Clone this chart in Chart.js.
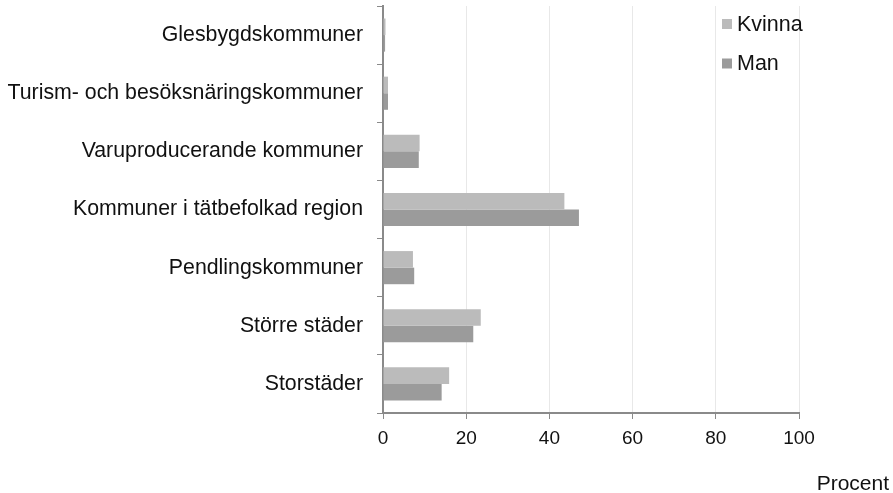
<!DOCTYPE html>
<html>
<head>
<meta charset="utf-8">
<script src="https://cdn.jsdelivr.net/npm/chart.js@4.4.0/dist/chart.umd.min.js"></script>
<style>
  html, body { margin: 0; padding: 0; background: #fff; }
  #wrap { width: 893px; height: 493px; }
</style>
</head>
<body>
<div id="wrap"><canvas id="chart" width="893" height="493"></canvas></div>
<script>
// Kategorier och värden (procent)
const kategorier = [
  "Glesbygdskommuner",
  "Turism- och besöksnäringskommuner",
  "Varuproducerande kommuner",
  "Kommuner i tätbefolkad region",
  "Pendlingskommuner",
  "Större städer",
  "Storstäder"
];
const kvinna = [0.6, 1.2, 8.8, 43.6, 7.2, 23.5, 15.9];
const man = [0.5, 1.2, 8.6, 47.1, 7.5, 21.7, 14.1];
const xTicks = [0, 20, 40, 60, 80, 100];

const FONT = "'Liberation Sans', Arial, sans-serif";

// egen legend inne i diagrammet + axeltitel "Procent"
const extraText = {
  id: "extraText",
  afterDraw(chart) {
    const ctx = chart.ctx;
    ctx.save();
    ctx.font = "21.5px " + FONT;
    ctx.textBaseline = "middle";
    chart.data.datasets.forEach((ds, i) => {
      const y = 24 + i * 39.5;
      ctx.fillStyle = ds.backgroundColor;
      ctx.fillRect(722, y - 5, 10, 10);
      ctx.fillStyle = "#111";
      ctx.textAlign = "left";
      ctx.fillText(ds.label, 737, y + 1);
    });
    ctx.font = "21px " + FONT;
    ctx.textAlign = "right";
    ctx.textBaseline = "alphabetic";
    ctx.fillText("Procent", 889, 490);
    ctx.restore();
  }
};

new Chart(document.getElementById("chart").getContext("2d"), {
  type: "bar",
  data: {
    labels: kategorier,
    datasets: [
      { label: "Kvinna", data: kvinna, backgroundColor: "#bbbbbb" },
      { label: "Man", data: man, backgroundColor: "#9b9b9b" }
    ]
  },
  options: {
    indexAxis: "y",
    responsive: false,
    animation: false,
    layout: { padding: { top: 6, right: 94, left: 0, bottom: 0 } },
    datasets: { bar: { categoryPercentage: 0.57, barPercentage: 1.0 } },
    plugins: {
      legend: { display: false },
      tooltip: { enabled: false }
    },
    scales: {
      x: {
        min: 0,
        max: 100,
        afterBuildTicks: s => { s.ticks = xTicks.map(v => ({ value: v })); },
        afterFit: s => { s.height = 80; s.paddingLeft = 0; s.paddingRight = 0; },
        border: { color: "#8a8a8a", width: 2 },
        grid: { color: "#e8e8e8", tickColor: "#8a8a8a", tickLength: 6 },
        ticks: { color: "#111", font: { family: FONT, size: 19 }, padding: 8 }
      },
      y: {
        afterFit: s => { s.width = 383; s.paddingTop = 0; s.paddingBottom = 0; },
        border: { color: "#8a8a8a", width: 2 },
        grid: { offset: true, drawOnChartArea: false, tickColor: "#8a8a8a", tickLength: 6 },
        ticks: { color: "#111", font: { family: FONT, size: 21.3 }, padding: 14 }
      }
    }
  },
  plugins: [extraText]
});
</script>
</body>
</html>
